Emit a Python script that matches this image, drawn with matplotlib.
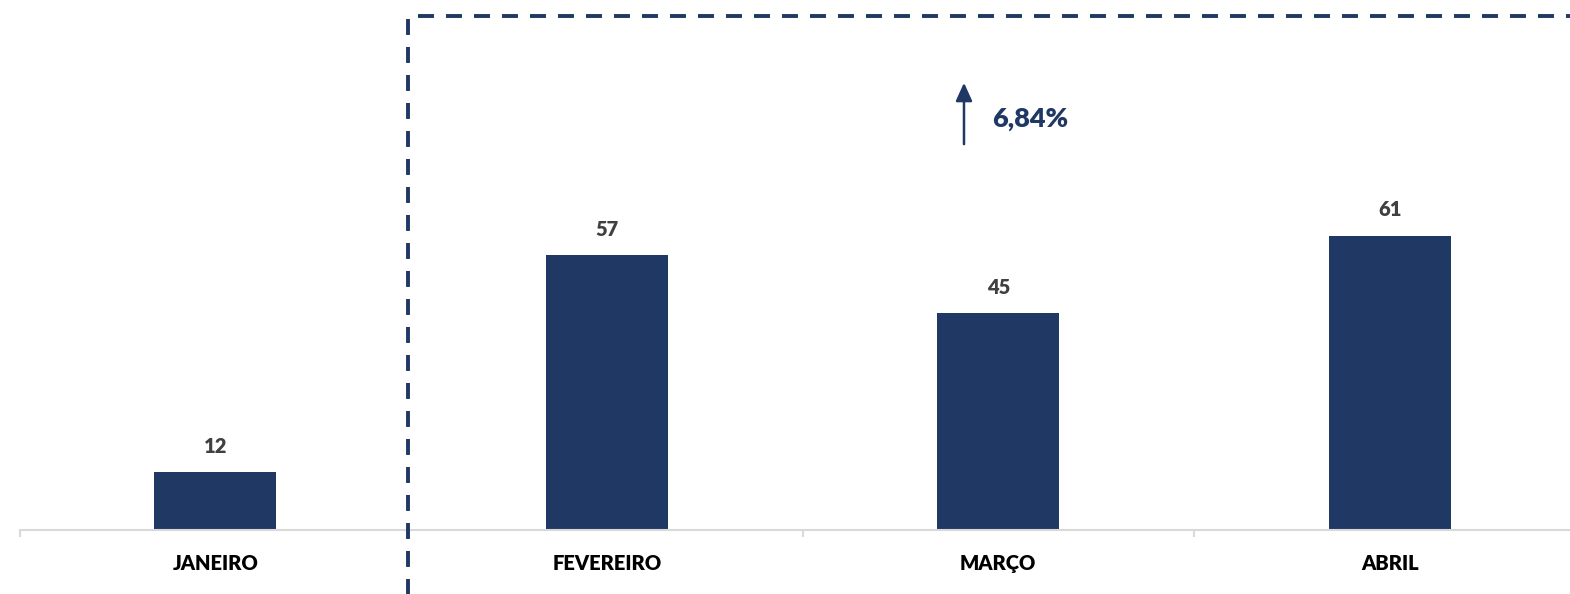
import matplotlib
matplotlib.use("Agg")
import matplotlib.pyplot as plt
from matplotlib.ticker import FixedLocator

categories = ["JANEIRO", "FEVEREIRO", "MARÇO", "ABRIL"]
values = [12, 57, 45, 61]
growth_label = "6,84%"

navy = "#203864"
plt.rcParams['font.family'] = ['Lato', 'DejaVu Sans']

fig = plt.figure(figsize=(15.7, 5.94), dpi=100)
ax = fig.add_axes([19.5/1570, 64/594, 1566/1570, 530/594])

x = list(range(len(categories)))
ax.bar(x, values, width=0.312, color=navy, zorder=2)
ax.set_xlim(-0.5, len(categories) - 0.5)
ax.set_ylim(0, 110)

for xi, v in zip(x, values):
    ax.annotate(str(v), (xi, v), xytext=(0, 12), textcoords="offset points",
                ha="center", va="bottom", fontsize=14.5, fontweight="heavy", color="#404040")

for s in ["top", "right", "left"]:
    ax.spines[s].set_visible(False)
ax.spines["bottom"].set_color("#d9d9d9")
ax.spines["bottom"].set_linewidth(1.5)
ax.set_yticks([])
ax.set_xticks(x)
ax.set_xticklabels(categories, fontsize=14.5, fontweight="heavy", color="black")
ax.tick_params(axis="x", which="major", length=0, pad=17)
ax.xaxis.set_minor_locator(FixedLocator([-0.5, 1.5, 2.5, 3.5]))
ax.tick_params(axis="x", which="minor", length=5, width=1.5, color="#d9d9d9")

# dashed highlight frame
dash = (0, (4.1, 3.1))
ax.plot([0.4935, 0.4935], [106.0, -20], color=navy, lw=2.8,
        linestyle=dash, clip_on=False, zorder=3)
ax.plot([0.518, 3.6], [106.6, 106.6], color=navy, lw=2.8,
        linestyle=dash, clip_on=False, zorder=3)

# growth arrow and label
ax.annotate("", xy=(1.9125, 93.4), xytext=(1.9125, 79.5),
            arrowprops=dict(arrowstyle="-|>,head_length=1.1,head_width=0.5",
                            color=navy, lw=1.8))
ax.text(1.985, 85.3, growth_label, ha="left", va="center", fontsize=19.5,
        fontweight="heavy", color=navy)

fig.savefig("out.png", dpi=100)
